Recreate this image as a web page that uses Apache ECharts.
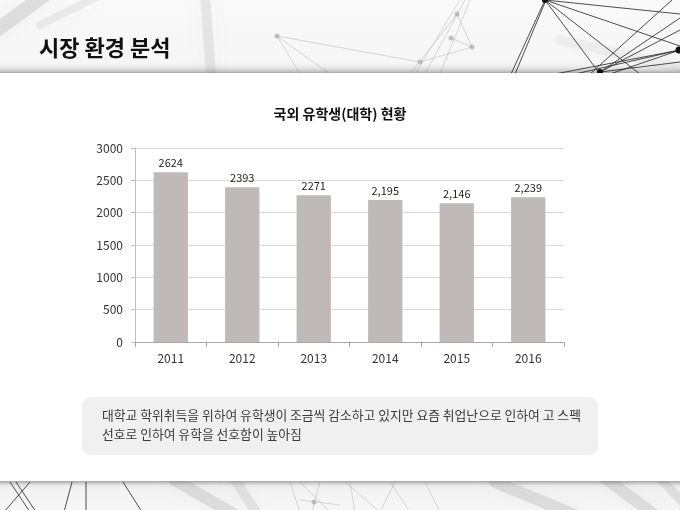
<!DOCTYPE html>
<html><head><meta charset="utf-8">
<script src="https://cdn.jsdelivr.net/npm/echarts@6/dist/echarts.min.js"></script>
<style>html,body{margin:0;padding:0;background:#fff}#c{width:680px;height:510px}</style>
</head><body><div id="c"></div>
<script>
var years = ['2011','2012','2013','2014','2015','2016'];
var students = [2624, 2393, 2271, 2195, 2146, 2239];
var valueLabels = ['2624','2393','2271','2,195','2,146','2,239'];
var yTicks = [0, 500, 1000, 1500, 2000, 2500, 3000];
var slideTitle = '시장 환경 분석';
var chartTitle = '국외 유학생(대학) 현황';
var noteLines = ['대학교 학위취득을 위하여 유학생이 조금씩 감소하고 있지만 요즘 취업난으로 인하여 고 스펙',
                 '선호로 인하여 유학을 선호함이 높아짐'];

var FONT = '"Noto Sans CJK KR", "Noto Sans", sans-serif';

function ln(x1,y1,x2,y2,color,w){
  return {type:'line', silent:true, shape:{x1:x1,y1:y1,x2:x2,y2:y2}, style:{stroke:color, lineWidth:w||0.8}};
}
function blur(x1,y1,x2,y2,w,a){
  return {type:'line', silent:true, shape:{x1:x1,y1:y1,x2:x2,y2:y2},
    style:{stroke:'rgba(170,170,170,'+a+')', lineWidth:w, shadowBlur:20, shadowColor:'rgba(150,150,150,'+a+')', lineCap:'round'}};
}
function dot(x,y,r,color){
  return {type:'circle', silent:true, shape:{cx:x,cy:y,r:r}, style:{fill:color}};
}

var deco = [];
deco.push({type:'rect', silent:true, shape:{x:0,y:0,width:680,height:74},
  style:{fill:{type:'linear',x:0,y:0,x2:0,y2:1,colorStops:[{offset:0,color:'#f9f9f9'},{offset:0.85,color:'#f6f6f6'},{offset:1,color:'#dcdcdc'}]}}});
deco.push({type:'rect', silent:true, shape:{x:0,y:480,width:680,height:30},
  style:{fill:{type:'linear',x:0,y:0,x2:0,y2:1,colorStops:[{offset:0,color:'#d0d0d0'},{offset:0.2,color:'#f2f2f2'},{offset:1,color:'#f7f7f7'}]}}});
deco.push(blur(-10,35,45,-5,14,0.3));
deco.push(blur(40,25,100,-5,8,0.18));
deco.push(blur(205,-5,211,75,10,0.22));
deco.push(blur(560,40,690,70,10,0.12));
deco.push(blur(175,480,235,515,12,0.3));
deco.push(blur(235,480,258,515,10,0.25));
deco.push(blur(495,482,575,515,12,0.3));
deco.push(blur(605,478,655,515,12,0.3));
deco.push(blur(662,480,690,510,9,0.28));
var lg = 'rgba(175,175,175,0.6)';
deco.push(ln(277,36,420,62,lg));
deco.push(ln(277,36,300,74,lg));
deco.push(ln(277,36,330,74,lg));
deco.push(ln(420,62,472,47,lg));
deco.push(ln(410,74,457,14,lg));
deco.push(ln(415,74,460,0,lg));
deco.push(ln(425,74,465,0,lg));
deco.push(ln(451,38,472,47,lg));
deco.push(ln(457,14,472,47,lg));
deco.push(ln(440,74,470,0,lg));
deco.push(dot(277,36,2.5,'rgba(170,170,170,0.7)'));
deco.push(dot(420,62,2.5,'rgba(170,170,170,0.7)'));
deco.push(dot(457,14,2.5,'rgba(170,170,170,0.7)'));
deco.push(dot(451,38,2.5,'rgba(170,170,170,0.7)'));
deco.push(dot(472,47,2.5,'rgba(170,170,170,0.7)'));
var dk = '#222';
deco.push(ln(545,0,511,74,dk));
deco.push(ln(546,0,515,74,dk));
deco.push(ln(545,0,600,74,dk));
deco.push(ln(545,0,640,74,dk));
deco.push(ln(545,0,680,14,dk));
deco.push(ln(545,0,680,46,dk));
deco.push(ln(680,50,555,74,dk));
deco.push(ln(680,50,575,74,dk));
deco.push(ln(680,50,610,74,dk));
deco.push(ln(600,72,680,18,dk));
deco.push(ln(600,72,680,30,dk));
deco.push(ln(600,72,680,62,dk));
deco.push(ln(672,0,590,74,dk));
deco.push(dot(545,0,3,'#111'));
deco.push(dot(679,50,3.5,'#111'));
deco.push(dot(600,72,3,'#111'));
deco.push(ln(10,482,30,512,dk));
deco.push(ln(16,482,36,512,dk));
deco.push(ln(30,482,4,512,dk));
deco.push(ln(72,482,64,512,dk));
deco.push(ln(86,482,86,512,dk));
deco.push(ln(123,482,142,512,dk));
deco.push(ln(290,482,300,512,lg));
deco.push(ln(300,482,330,512,lg));
deco.push(ln(320,482,312,512,lg));
deco.push(ln(300,500,340,505,lg));
deco.push(ln(345,482,380,512,lg));
deco.push(ln(350,482,355,512,lg));
deco.push(ln(395,482,380,512,lg));
deco.push(ln(425,482,440,512,lg));
deco.push(ln(390,482,410,512,lg));
deco.push(dot(314,502,2.5,'rgba(170,170,170,0.7)'));
deco.push({type:'rect', silent:true, shape:{x:-10,y:73,width:700,height:408},
  style:{fill:'#ffffff', shadowBlur:6, shadowColor:'rgba(0,0,0,0.45)'}});
deco.push({type:'text', silent:true, left:39, top:37, style:{text:slideTitle, fill:'#111', font:'bold 22px '+FONT}});
deco.push({type:'text', silent:true, left:'center', top:107, style:{text:chartTitle, fill:'#111', font:'bold 14px '+FONT}});
deco.push({type:'rect', silent:true, shape:{x:82,y:397,width:516,height:58,r:9}, style:{fill:'#f0f0f0'}});
deco.push({type:'text', silent:true, left:102, top:406, style:{text:noteLines.join('\n'), fill:'#3a3a3a', font:'12.8px '+FONT, lineHeight:19}});

var chart = echarts.init(document.getElementById('c'));
chart.setOption({
  animation:false,
  backgroundColor:'#ffffff',
  graphic:{elements:deco},
  grid:{left:135, right:116, top:148, bottom:168, containLabel:false},
  xAxis:{type:'category', data:years,
    axisLine:{lineStyle:{color:'#a6a6a6'}},
    axisTick:{show:true, alignWithLabel:false, length:5, lineStyle:{color:'#a6a6a6'}},
    axisLabel:{color:'#333', fontSize:12, margin:10, fontFamily:FONT}},
  yAxis:{type:'value', min:yTicks[0], max:yTicks[yTicks.length-1], interval:yTicks[1]-yTicks[0],
    axisLine:{show:true, lineStyle:{color:'#bfbfbf'}},
    axisTick:{show:true, length:4, lineStyle:{color:'#bfbfbf'}},
    splitLine:{lineStyle:{color:'#d9d9d9'}},
    axisLabel:{color:'#333', fontSize:12, margin:12, fontFamily:FONT, formatter:function(v){return String(v);}}},
  series:[{type:'bar', data:students, barWidth:'48%', z:5,
    itemStyle:{color:'#bfb9b9'},
    label:{show:true, position:'top', distance:4, color:'#222', fontSize:11, fontFamily:FONT,
      formatter:function(p){return valueLabels[p.dataIndex];}}}]
});
</script></body></html>
